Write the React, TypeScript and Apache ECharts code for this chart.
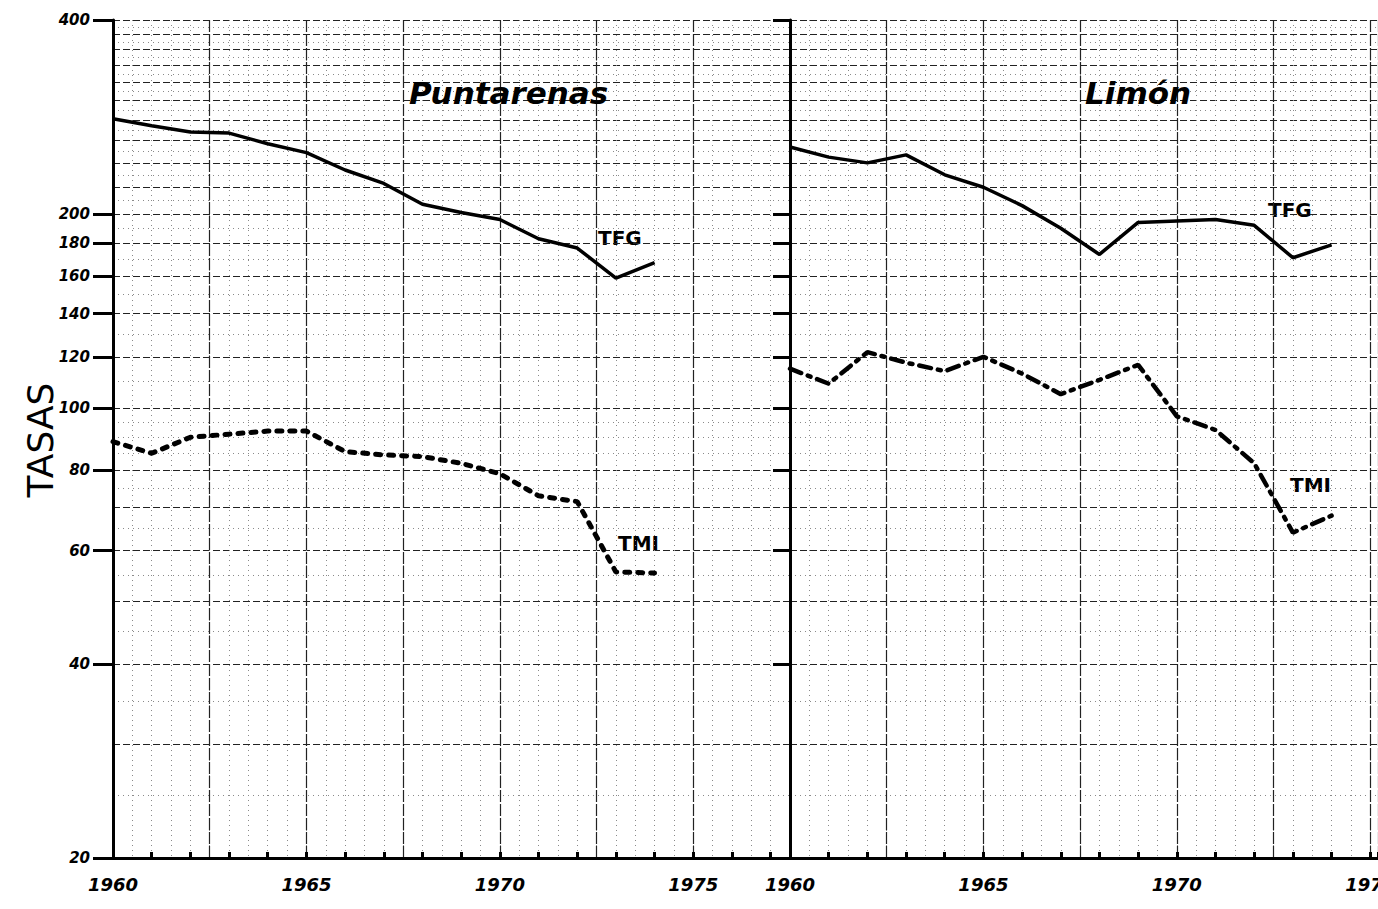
import React, { useEffect, useRef } from "react";
import * as echarts from "echarts";

const years = [1960, 1961, 1962, 1963, 1964, 1965, 1966, 1967, 1968, 1969, 1970, 1971, 1972, 1973, 1974];
const puntarenasTFG = [281, 274, 268, 267, 257, 249, 234, 223, 207, 201, 196, 183, 177, 159, 168];
const puntarenasTMI = [88.6, 85, 90, 91, 92, 92, 85.5, 84.5, 84, 82, 79, 73, 71.5, 55.6, 55.4];
const limonTFG = [254, 245, 240, 247, 230, 220, 206, 190, 173, 194, 195, 196, 192, 171, 179];
const limonTMI = [115, 109, 122, 117.5, 114, 120, 113, 105, 110.5, 116.6, 97, 92.4, 82, 64, 68];

const yLabelValues = [20, 40, 60, 80, 100, 120, 140, 160, 180, 200, 400];
const yMajorLines = [20, 30, 40, 50, 60, 70, 80, 100, 120, 140, 160, 180, 200, 220, 240, 260, 280, 300, 320, 340, 360, 380, 400];
const yMinorLines = [25, 35, 45, 55, 65, 75, 85, 90, 95, 110, 130, 150, 170, 190, 210, 230, 250, 270, 290, 310, 330, 350, 370, 390];

const panelTitles = ["Puntarenas", "Limón"];
const seriesNames = ["TFG", "TMI"];
const axisTitle = "TASAS";

const handFont = "DejaVu Sans";

function pairs(vals: number[]) {
  return years.map((y, i) => [y, vals[i]]);
}

export default function App() {
  const ref = useRef<HTMLDivElement>(null);
  useEffect(() => {
    if (!ref.current) return;
    const chart = echarts.init(ref.current, null, { renderer: "svg" });

    const xMain = (grid: number, max: number) => ({
      type: "value",
      gridIndex: grid,
      min: 1960,
      max,
      interval: 1,
      position: "bottom",
      axisLine: { show: true, onZero: false, lineStyle: { color: "#000", width: 3 } },
      axisTick: { show: true, inside: true, length: 6, lineStyle: { color: "#000", width: 3 } },
      axisLabel: {
        show: true,
        margin: 17,
        color: "#000",
        fontSize: 18,
        fontStyle: "italic",
        fontWeight: "bold",
        fontFamily: handFont,
        formatter: (v: number) => (v % 5 === 0 ? String(v) : ""),
      },
      splitLine: { show: false },
    });
    const xGridAxis = (grid: number, max: number, interval: number, style: any) => ({
      type: "value",
      gridIndex: grid,
      min: 1960,
      max,
      interval,
      position: "bottom",
      axisLine: { show: false, onZero: false },
      axisTick: { show: false },
      axisLabel: { show: false },
      splitLine: { show: true, lineStyle: style },
    });
    const yMain = (grid: number, showLabels: boolean) => ({
      type: "log",
      logBase: 10,
      gridIndex: grid,
      min: 20,
      max: 400,
      axisLine: { show: true, lineStyle: { color: "#000", width: 3 } },
      axisTick: {
        show: true,
        customValues: yLabelValues,
        length: showLabels ? 20 : 17,
        lineStyle: { color: "#000", width: 3 },
      },
      axisLabel: {
        show: showLabels,
        customValues: yLabelValues,
        margin: 23,
        color: "#000",
        fontSize: 15,
        fontStyle: "italic",
        fontWeight: "bold",
        fontFamily: handFont,
      },
      splitLine: { show: false },
    });
    const yGridAxis = (grid: number, values: number[], style: any) => ({
      type: "log",
      logBase: 10,
      gridIndex: grid,
      min: 20,
      max: 400,
      axisLine: { show: false },
      axisTick: { show: false, customValues: values },
      axisLabel: { show: false, customValues: values },
      splitLine: { show: true, lineStyle: style },
    });

    const minorStyle = { color: "#8a8a8a", width: 1, type: [1, 4] };
    const majorStyleV = { color: "#222", width: 1.2, type: [12, 2] };
    const majorStyleH = { color: "#222", width: 1.1, type: [7, 3] };

    const leftMax = 1977.5;
    const rightMax = 1975.2;

    const labelText = (text: string, x: number, y: number, size = 20) => ({
      type: "text",
      left: x,
      top: y,
      style: {
        text,
        fill: "#000",
        font: `bold ${size}px "${handFont}"`,
      },
    });

    const titleStyle = { fontSize: 31, fontStyle: "italic", fontWeight: "bold", fontFamily: handFont, color: "#000" };

    const option: any = {
      animation: false,
      backgroundColor: "#fff",
      grid: [
        { left: 113, top: 20, width: 677, height: 838, outerBoundsMode: "none", containLabel: false },
        { left: 790, top: 20, width: 588, height: 838, outerBoundsMode: "none", containLabel: false },
      ],
      title: [
        { text: panelTitles[0], left: 404, top: 72, textStyle: titleStyle },
        { text: panelTitles[1], left: 1080, top: 72, textStyle: titleStyle },
      ],
      xAxis: [
        xMain(0, leftMax),
        xGridAxis(0, leftMax, 0.5, minorStyle),
        xGridAxis(0, leftMax, 2.5, majorStyleV),
        xMain(1, rightMax),
        xGridAxis(1, rightMax, 0.5, minorStyle),
        xGridAxis(1, rightMax, 2.5, majorStyleV),
      ],
      yAxis: [
        yMain(0, true),
        yGridAxis(0, yMajorLines, majorStyleH),
        yGridAxis(0, yMinorLines, minorStyle),
        yMain(1, false),
        yGridAxis(1, yMajorLines, majorStyleH),
        yGridAxis(1, yMinorLines, minorStyle),
      ],
      series: [
        {
          name: `${panelTitles[0]} ${seriesNames[0]}`,
          type: "line",
          xAxisIndex: 0,
          yAxisIndex: 0,
          data: pairs(puntarenasTFG),
          showSymbol: false,
          lineStyle: { color: "#000", width: 3.5 },
          z: 5,
        },
        {
          name: `${panelTitles[0]} ${seriesNames[1]}`,
          type: "line",
          xAxisIndex: 0,
          yAxisIndex: 0,
          data: pairs(puntarenasTMI),
          showSymbol: false,
          lineStyle: { color: "#000", width: 5, type: [5, 8], cap: "round" },
          z: 5,
        },
        {
          name: `${panelTitles[1]} ${seriesNames[0]}`,
          type: "line",
          xAxisIndex: 3,
          yAxisIndex: 3,
          data: pairs(limonTFG),
          showSymbol: false,
          lineStyle: { color: "#000", width: 3.5 },
          z: 5,
        },
        {
          name: `${panelTitles[1]} ${seriesNames[1]}`,
          type: "line",
          xAxisIndex: 3,
          yAxisIndex: 3,
          data: pairs(limonTMI),
          showSymbol: false,
          lineStyle: { color: "#000", width: 4.5, type: [12, 7, 3, 7], cap: "round" },
          z: 5,
        },
      ],
      graphic: [
        labelText(seriesNames[0], 598, 228),
        labelText(seriesNames[1], 618, 533),
        labelText(seriesNames[0], 1268, 200),
        labelText(seriesNames[1], 1290, 475),
        {
          type: "text",
          x: 40,
          y: 440,
          rotation: Math.PI / 2,
          style: {
            text: axisTitle,
            fill: "#000",
            font: `36px "${handFont}"`,
            textAlign: "center",
            textVerticalAlign: "middle",
          },
        },
      ],
    };

    chart.setOption(option);
    return () => chart.dispose();
  }, []);

  return (
    <div
      ref={ref}
      style={{ position: "absolute", left: 0, top: 0, width: 1378, height: 909, background: "#fff" }}
    />
  );
}
